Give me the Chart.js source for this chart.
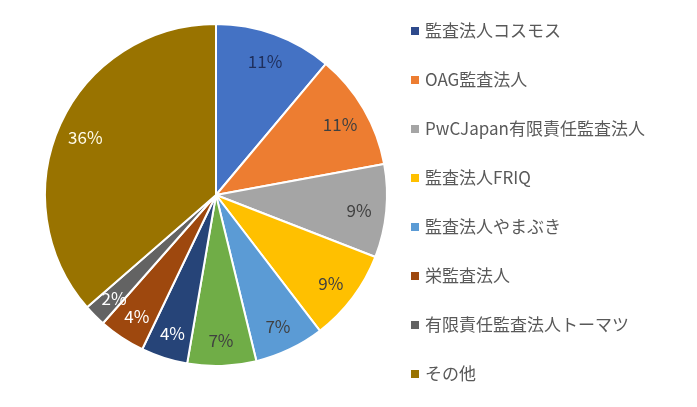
<!DOCTYPE html>
<html>
<head>
<meta charset="utf-8">
<script src="https://cdn.jsdelivr.net/npm/chart.js@4"></script>
<style>
  body { margin: 0; background: #fff; }
  #wrap { width: 697px; height: 407px; position: relative; }
</style>
</head>
<body>
<div id="wrap"><canvas id="pieChart"></canvas></div>
<script>
/* slice data, clockwise from 12 o'clock (two slices have no legend entry in the picture) */
var firms = ['', 'OAG監査法人', 'PwCJapan有限責任監査法人', '監査法人FRIQ', '監査法人やまぶき',
             '', '監査法人コスモス', '栄監査法人', '有限責任監査法人トーマツ', 'その他'];
var shares = [11.1, 11.0, 8.8, 8.7, 6.6, 6.5, 4.4, 4.4, 2.1, 36.4];
var sliceColors = ['#4472C4', '#ED7D31', '#A5A5A5', '#FFC000', '#5B9BD5',
                   '#70AD47', '#264478', '#9E480E', '#636363', '#997300'];
var labelColors = ['#1F2F5C', '#404040', '#404040', '#404040', '#404040',
                   '#404040', '#ffffff', '#ffffff', '#ffffff', '#fffbe8'];

/* legend as shown in the picture (8 entries) */
var legendNames = ['監査法人コスモス', 'OAG監査法人', 'PwCJapan有限責任監査法人', '監査法人FRIQ',
                   '監査法人やまぶき', '栄監査法人', '有限責任監査法人トーマツ', 'その他'];
var legendColors = ['#2E4A8C', '#ED7D31', '#A5A5A5', '#FFC000', '#5B9BD5', '#9E480E', '#636363', '#997300'];

var fontFam = "'Noto Sans CJK JP', 'Noto Sans', sans-serif";

// percent labels inside slices
var sliceLabels = {
  id: 'sliceLabels',
  afterDatasetsDraw: function(chart) {
    var c = chart.ctx;
    var meta = chart.getDatasetMeta(0);
    c.save();
    c.font = '17px ' + fontFam;
    c.textAlign = 'center';
    c.textBaseline = 'middle';
    meta.data.forEach(function(arc, i) {
      var p = arc.getProps(['x', 'y', 'startAngle', 'endAngle', 'outerRadius'], true);
      var mid = (p.startAngle + p.endAngle) / 2;
      var r = p.outerRadius * 0.84;
      c.fillStyle = labelColors[i];
      c.fillText(Math.round(shares[i]) + '%', p.x + Math.cos(mid) * r, p.y + Math.sin(mid) * r + 2);
    });
    c.restore();
  }
};

// legend column on the right
var sideLegend = {
  id: 'sideLegend',
  afterDraw: function(chart) {
    var c = chart.ctx;
    c.save();
    c.font = '17px ' + fontFam;
    c.textBaseline = 'middle';
    c.textAlign = 'left';
    legendNames.forEach(function(name, i) {
      var y = 31 + i * 49;
      c.fillStyle = legendColors[i];
      c.fillRect(411, y - 4, 8, 8);
      c.fillStyle = '#595959';
      c.fillText(name, 425, y);
    });
    c.restore();
  }
};

var ctx = document.getElementById('pieChart');

var pieChart = new Chart(ctx, {
  type: 'pie',
  data: {
    labels: firms,
    datasets: [{
      data: shares,
      backgroundColor: sliceColors,
      borderColor: '#ffffff',
      borderWidth: 2
    }]
  },
  options: {
    responsive: true,
    maintainAspectRatio: false,
    animation: false,
    layout: { padding: { left: 44, right: 309, top: 23, bottom: 40 } },
    plugins: {
      legend: { display: false },
      tooltip: { enabled: false }
    }
  },
  plugins: [sliceLabels, sideLegend]
});
</script>
</body>
</html>
